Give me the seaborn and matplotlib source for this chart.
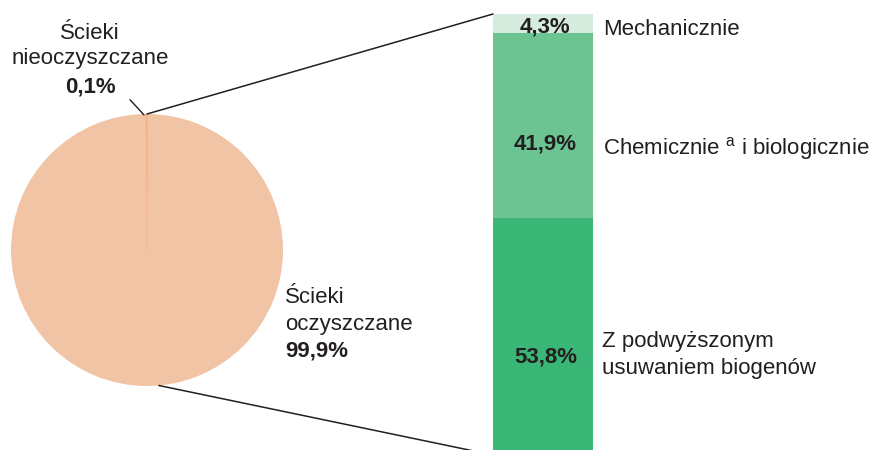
#libraries
import numpy as np
import pandas as pd
import seaborn as sns
from matplotlib import pyplot as plt
from matplotlib.patches import ConnectionPatch

#data
pie_labels=['Ścieki\noczyszczane','Ścieki\nnieoczyszczane']
pie_values=[99.9,0.1]
pie_texts=['99,9%','0,1%']
bar_labels=['Z podwyższonym\nusuwaniem biogenów','Chemicznie $^{\\mathregular{a}}$ i biologicznie','Mechanicznie']
bar_values=[53.8,41.9,4.3]
bar_texts=['53,8%','41,9%','4,3%']

sns.set_theme(style='white')
plt.rcParams['font.family']=['Liberation Sans','DejaVu Sans']
plt.rcParams['mathtext.fontset']='custom'
plt.rcParams['mathtext.rm']='Liberation Sans'
txt='#231f20'
W,H=869,450
fig=plt.figure(figsize=(8.69,4.5),dpi=100)

def px(x,y):
    return x/W,1-y/H

#pie
ax_pie=fig.add_axes([11/W,1-386/H,272/W,272/H])
ax_pie.pie(pie_values,startangle=90,counterclock=False,colors=['#f1c4a6','#f4b088'],
           wedgeprops=dict(linewidth=0))
wedges=ax_pie.patches
wedges[1].set_edgecolor('#f4b088')
wedges[1].set_linewidth(0.6)
ax_pie.set_xlim(-1,1)
ax_pie.set_ylim(-1,1)
ax_pie.set_aspect('equal')
ax_pie.axis('off')

#stacked bar drawn back to front from cumulative totals
ax_bar=fig.add_axes([493/W,1-455/H,100/W,441/H])
cum=np.cumsum(bar_values)
bar_colors=['#3ab677','#6cc493','#d6ecde']
for total,col in reversed(list(zip(cum,bar_colors))):
    sns.barplot(x=[0],y=[total],color=col,width=1,ax=ax_bar,saturation=1,linewidth=0)
ax_bar.set_xlim(-0.5,0.5)
ax_bar.set_ylim(0,100)
ax_bar.axis('off')

#connector lines
for xy_pie,xy_bar in [((0,1),(-0.5,100)),((np.cos(np.radians(-85)),np.sin(np.radians(-85))),(-0.5,0))]:
    con=ConnectionPatch(xyA=xy_pie,coordsA=ax_pie.transData,xyB=xy_bar,coordsB=ax_bar.transData,
                        color=txt,lw=1.1)
    fig.add_artist(con)
#leader for the small slice
ax_pie.plot([-0.022,-0.125],[0.993,1.105],color=txt,lw=1,clip_on=False)

fs=16
#pie labels
l1=pie_labels[1].split('\n')
fig.text(*px(90,39),l1[0],ha='center',va='baseline',fontsize=fs,color=txt)
fig.text(*px(90,64),l1[1],ha='center',va='baseline',fontsize=fs,color=txt)
fig.text(*px(90,92),pie_texts[1],ha='center',va='baseline',fontsize=fs,color=txt,weight='bold')
l0=pie_labels[0].split('\n')
fig.text(*px(285,303),l0[0],ha='left',va='baseline',fontsize=fs,color=txt)
fig.text(*px(285,330),l0[1],ha='left',va='baseline',fontsize=fs,color=txt)
fig.text(*px(285,357),pie_texts[0],ha='left',va='baseline',fontsize=fs,color=txt,weight='bold')

#bar value labels
fig.text(*px(545,32),bar_texts[2],ha='center',va='baseline',fontsize=fs,color=txt,weight='bold')
fig.text(*px(577,150),bar_texts[1],ha='right',va='baseline',fontsize=fs,color=txt,weight='bold')
fig.text(*px(577,363),bar_texts[0],ha='right',va='baseline',fontsize=fs,color=txt,weight='bold')

#bar category labels
fig.text(*px(603,35),bar_labels[2],ha='left',va='baseline',fontsize=fs,color=txt)
fig.text(*px(603,154),bar_labels[1],ha='left',va='baseline',fontsize=fs,color=txt)
b0=bar_labels[0].split('\n')
fig.text(*px(602,347),b0[0],ha='left',va='baseline',fontsize=fs,color=txt)
fig.text(*px(602,374),b0[1],ha='left',va='baseline',fontsize=fs,color=txt)

fig.savefig('out.png',dpi=100)
